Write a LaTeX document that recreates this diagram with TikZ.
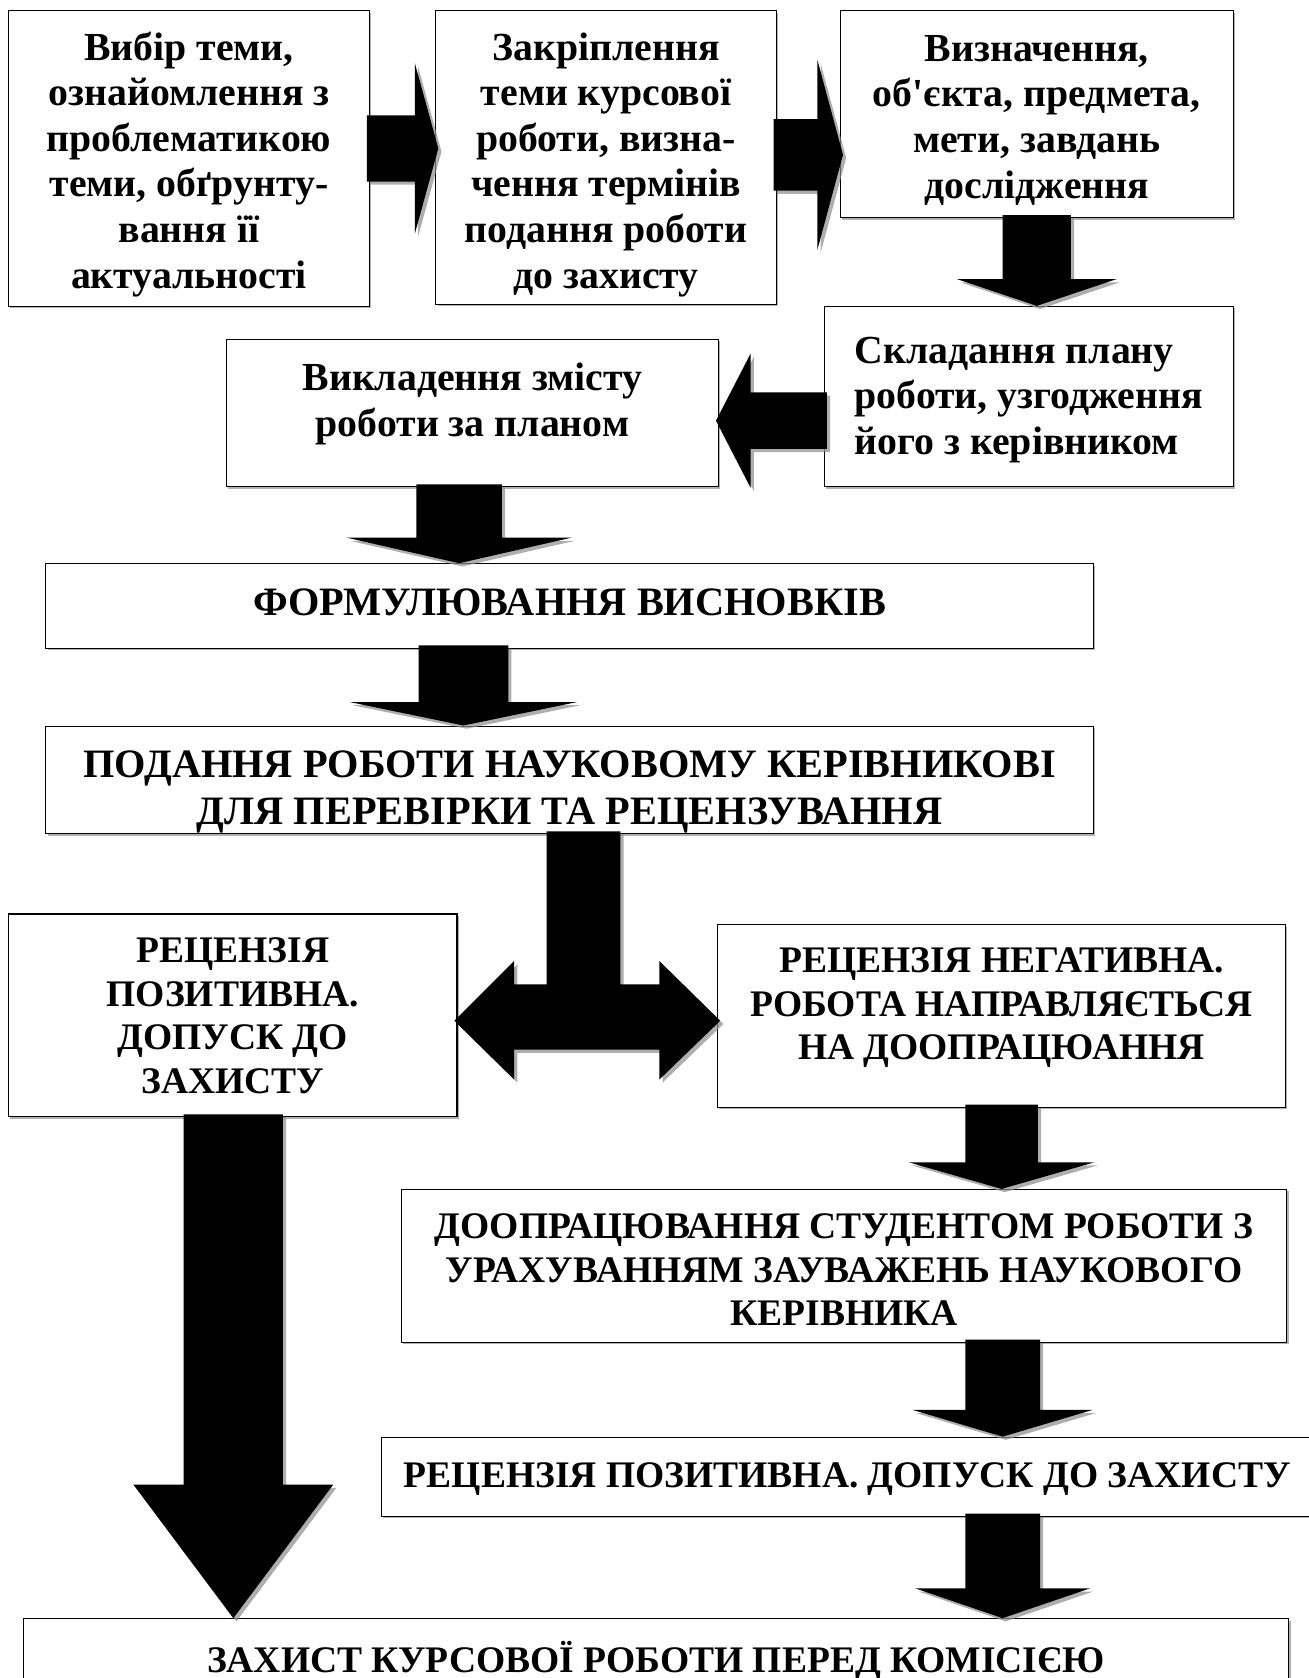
\documentclass[tikz,border=0pt]{standalone}
\usepackage{fontspec}
\setmainfont{Liberation Serif}
\usetikzlibrary{calc,shadows}

\newdimen\pxu \pxu=0.2mm
\newcommand{\stagetext}[3][0]{\raisebox{#1\pxu}[\height][\depth]{\begin{tabular}{@{}#2@{}}#3\end{tabular}}}
\newcommand{\blkdown}[6]{%
  \fill[blkarrow] let \p1=(#1.south), \p2=(#2.north) in
    ({(#3-#4)*\pxu},{\y1+3*\pxu}) -- ({(#3+#4)*\pxu},{\y1+3*\pxu})
    -- ({(#3+#4)*\pxu},{\y2+#6*\pxu}) -- ({(#3+#5)*\pxu},{\y2+#6*\pxu})
    -- ({#3*\pxu},\y2) -- ({(#3-#5)*\pxu},{\y2+#6*\pxu})
    -- ({(#3-#4)*\pxu},{\y2+#6*\pxu}) -- cycle;}
\newcommand{\blkright}[6]{%
  \fill[blkarrow] let \p1=(#1.east), \p2=(#2.west) in
    ({\x1-3*\pxu},{-(#3-#4)*\pxu}) -- ({\x2+3*\pxu-#6*\pxu},{-(#3-#4)*\pxu})
    -- ({\x2+3*\pxu-#6*\pxu},{-(#3-#5)*\pxu}) -- ({\x2+3*\pxu},{-#3*\pxu})
    -- ({\x2+3*\pxu-#6*\pxu},{-(#3+#5)*\pxu}) -- ({\x2+3*\pxu-#6*\pxu},{-(#3+#4)*\pxu})
    -- ({\x1-3*\pxu},{-(#3+#4)*\pxu}) -- cycle;}
\newcommand{\blkleft}[6]{%
  \fill[blkarrow] let \p1=(#1.west), \p2=(#2.east) in
    ({\x1+3*\pxu},{-(#3-#4)*\pxu}) -- ({\x2-3*\pxu+#6*\pxu},{-(#3-#4)*\pxu})
    -- ({\x2-3*\pxu+#6*\pxu},{-(#3-#5)*\pxu}) -- ({\x2-3*\pxu},{-#3*\pxu})
    -- ({\x2-3*\pxu+#6*\pxu},{-(#3+#5)*\pxu}) -- ({\x2-3*\pxu+#6*\pxu},{-(#3+#4)*\pxu})
    -- ({\x1+3*\pxu},{-(#3+#4)*\pxu}) -- cycle;}

\tikzset{
  stage/.style={draw, line width=0.6pt, fill=white, inner sep=0pt,
    font=\bfseries\fontsize{21.2}{24.3}\selectfont,
    drop shadow={shadow xshift=0.35mm, shadow yshift=-0.35mm, fill=black!60, opacity=.5}},
  bigcaps/.style={font=\bfseries\fontsize{21.5}{25}\selectfont},
  smallcaps/.style={font=\bfseries\fontsize{20}{23.3}\selectfont},
  sz/.style 2 args={minimum width=#1*\pxu, minimum height=#2*\pxu},
  blkarrow/.style={fill=black,
    drop shadow={shadow xshift=0.6mm, shadow yshift=-0.6mm, fill=black!45, opacity=.7}}
}

\begin{document}
\begin{tikzpicture}[x=0.2mm, y=-0.2mm]
\useasboundingbox (0,0) rectangle (1225,1571.5);

\node[stage, sz={338}{277}] (choice) at (177,148.5) {\stagetext[-6]{c}{Вибір теми,\\ ознайомлення з\\ проблематикою\\ теми, обґрунту-\\ вання її\\ актуальності}};
\node[stage, sz={319}{275}] (fixing) at (567.5,147.5) {\stagetext[-7]{c}{Закріплення\\ теми курсової\\ роботи, визна-\\ чення термінів\\ подання роботи\\ до захисту}};
\node[stage, sz={368}{194}] (object) at (971,107) {\stagetext[-6]{c}{Визначення,\\ об\textquotesingle єкта, предмета,\\ мети, завдань\\ дослідження}};
\node[stage, sz={383}{169}] (plan) at (963.5,371.5) {\stagetext[-3]{l}{Складання плану\\ роботи, узгодження\\ його з керівником}};
\node[stage, sz={461}{138}] (writing) at (442.5,387) {\stagetext[8.5]{c}{Викладення змісту\\ роботи за планом}};
\node[stage, bigcaps, sz={981}{79}] (concl) at (533.5,567.5) {\stagetext{c}{ФОРМУЛЮВАННЯ ВИСНОВКІВ}};
\node[stage, bigcaps, sz={981}{101}] (submit) at (533.5,730.5) {\stagetext[-10.5]{c}{ПОДАННЯ РОБОТИ НАУКОВОМУ КЕРІВНИКОВІ\\ ДЛЯ ПЕРЕВІРКИ ТА РЕЦЕНЗУВАННЯ}};
\node[stage, smallcaps, sz={420}{190}] (posrev) at (218,951) {\stagetext[-3.5]{c}{РЕЦЕНЗІЯ\\ ПОЗИТИВНА.\\ ДОПУСК ДО\\ ЗАХИСТУ}};
\node[stage, smallcaps, sz={532}{171}] (negrev) at (938,951.5) {\stagetext[8]{c}{РЕЦЕНЗІЯ НЕГАТИВНА.\\ РОБОТА НАПРАВЛЯЄТЬСЯ\\ НА ДООПРАЦЮАННЯ}};
\node[stage, smallcaps, sz={829}{143}] (rework) at (790.5,1185.5) {\stagetext[-7]{c}{ДООПРАЦЮВАННЯ СТУДЕНТОМ РОБОТИ З\\ УРАХУВАННЯМ ЗАУВАЖЕНЬ НАУКОВОГО\\ КЕРІВНИКА}};
\node[stage, smallcaps, sz={873}{74}] (posrev2) at (793.5,1383) {\stagetext[-2]{c}{РЕЦЕНЗІЯ ПОЗИТИВНА. ДОПУСК ДО ЗАХИСТУ}};
\node[stage, smallcaps, sz={1185}{74}] (defence) at (614.5,1553) {\stagetext[-5]{c}{ЗАХИСТ КУРСОВОЇ РОБОТИ ПЕРЕД КОМІСІЄЮ}};

\blkright{choice}{fixing}{139}{31}{80}{22}
\blkright{fixing}{object}{145}{33.5}{89}{24}
\blkdown{object}{plan}{971}{32}{74.5}{25}
\blkleft{plan}{writing}{394}{26.5}{63}{32.5}
\blkdown{writing}{concl}{430}{40}{105.5}{24}
\blkdown{concl}{submit}{434}{42}{106.5}{22}
\fill[blkarrow] let \p1=(submit.south), \p2=(posrev.east), \p3=(negrev.west) in
  ({512*\pxu},{\y1+3*\pxu}) -- ({581*\pxu},{\y1+3*\pxu}) -- ({581*\pxu},{-922*\pxu})
  -- ({\x3-54*\pxu},{-922*\pxu}) -- ({\x3-54*\pxu},{-900*\pxu})
  -- ({\x3+3*\pxu},{-956*\pxu}) -- ({\x3-54*\pxu},{-1011*\pxu})
  -- ({\x3-54*\pxu},{-983*\pxu}) -- ({\x2+53*\pxu},{-983*\pxu})
  -- ({\x2+53*\pxu},{-1011*\pxu}) -- ({\x2-3*\pxu},{-956*\pxu})
  -- ({\x2+53*\pxu},{-900*\pxu}) -- ({\x2+53*\pxu},{-922*\pxu})
  -- ({512*\pxu},{-922*\pxu}) -- cycle;
\blkdown{posrev}{defence}{218.5}{46.5}{93.5}{125}
\blkdown{negrev}{rework}{938}{34}{87}{25}
\blkdown{rework}{posrev2}{939}{35}{84}{25}
\blkdown{posrev2}{defence}{939}{35}{82}{28}
\end{tikzpicture}
\end{document}
